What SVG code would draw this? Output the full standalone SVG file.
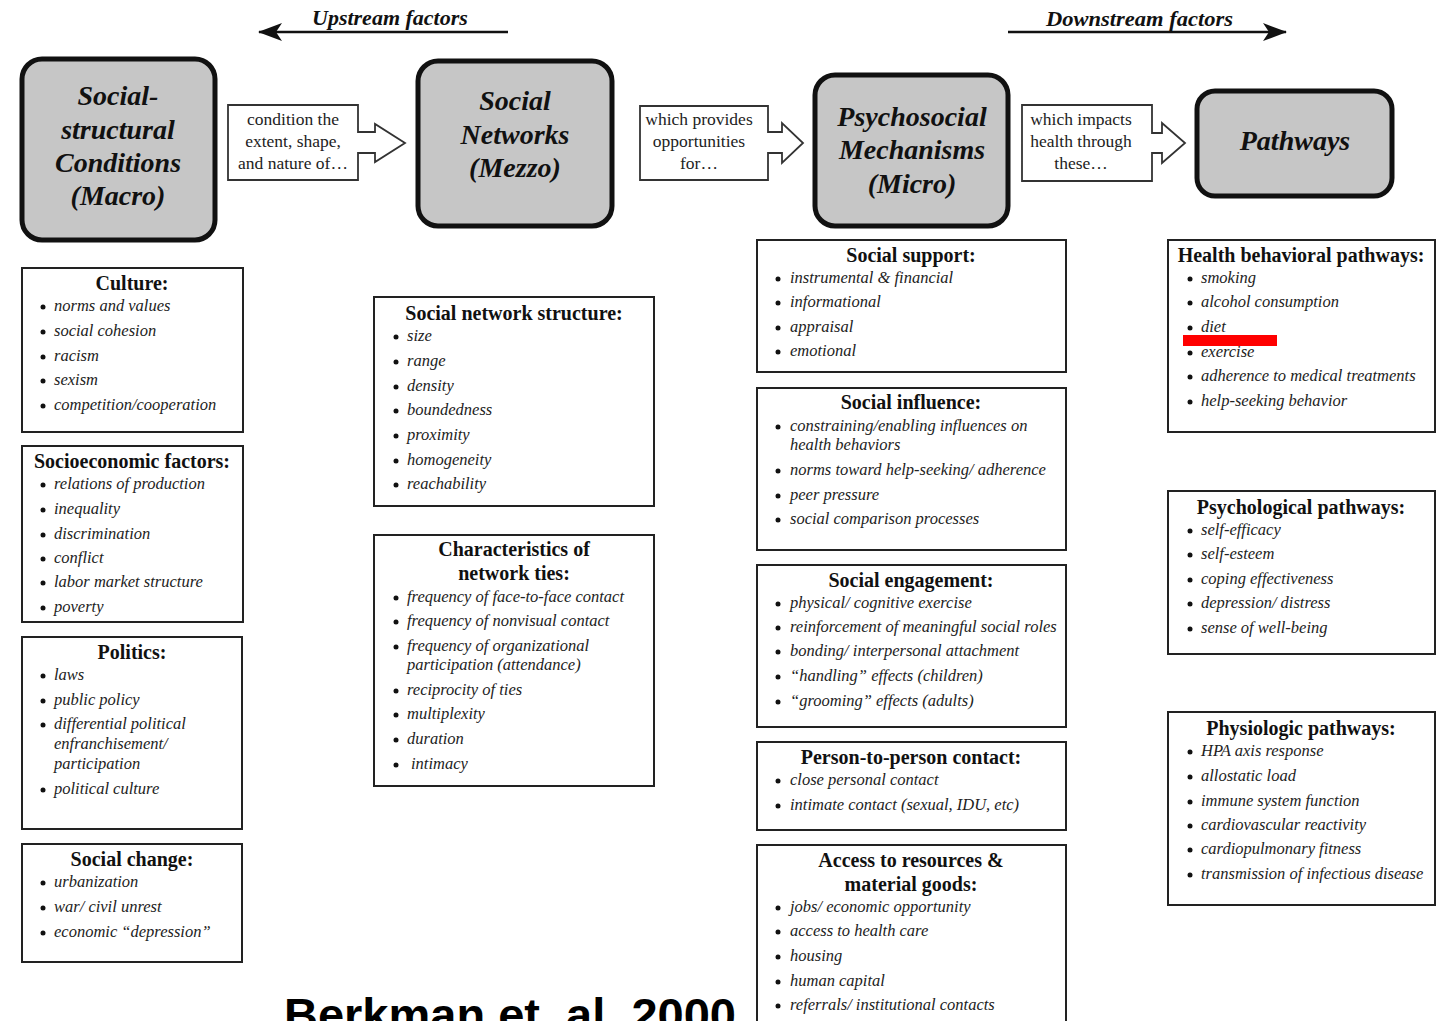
<svg xmlns="http://www.w3.org/2000/svg" width="1452" height="1021" viewBox="0 0 1452 1021">
<style>
.hbox{fill:#c6c6c6;stroke:#111;stroke-width:5}
.hdr{font-family:"Liberation Serif",serif;font-weight:bold;font-style:italic;font-size:28px;text-anchor:middle;fill:#111}
.cbox{fill:#fff;stroke:#333;stroke-width:1.8}
.ct{font-family:"Liberation Serif",serif;font-size:17.5px;text-anchor:middle;fill:#222}
.box{fill:#fff;stroke:#222;stroke-width:2}
.ttl{font-family:"Liberation Serif",serif;font-weight:bold;font-size:20px;text-anchor:middle;fill:#111}
.it{font-family:"Liberation Serif",serif;font-style:italic;font-size:16.5px;fill:#222}
.bul{fill:#111}
.flow{font-family:"Liberation Serif",serif;font-weight:bold;font-style:italic;font-size:22px;fill:#111}
.ln{stroke:#111;stroke-width:2.5;fill:none}
.cite{font-family:"Liberation Sans",Arial,sans-serif;font-weight:bold;font-size:47px;fill:#000}
</style>
<defs>
<marker id="ah" viewBox="0 0 24 18" refX="23" refY="9" markerWidth="24" markerHeight="18" markerUnits="userSpaceOnUse" orient="auto">
<path d="M0,0 L24,9 L0,18 L6,9 Z" fill="#111"/>
</marker>
</defs>
<rect width="1452" height="1021" fill="#fff"/>

<g id="flow-labels">
<text class="flow" x="312" y="25">Upstream factors</text>
<text class="flow" x="1046" y="26" textLength="187" lengthAdjust="spacingAndGlyphs">Downstream factors</text>
</g>

<g id="connectors">
<line class="ln" x1="508" y1="32" x2="259" y2="32" marker-end="url(#ah)"/>
<line class="ln" x1="1008" y1="32" x2="1286" y2="32" marker-end="url(#ah)"/>
<path class="cbox" d="M228,105 H358 V132 H375 V124 L405,143 L375,162 V153 H358 V180 H228 Z"/>
<path class="cbox" d="M640,106 H768 V132 H782 V123 L803,143 L782,163 V153 H768 V180 H640 Z"/>
<path class="cbox" d="M1022,105 H1152 V133 H1162 V123 L1185,143 L1162,163 V153 H1152 V181 H1022 Z"/>
<text class="ct" x="293" y="125">condition the</text>
<text class="ct" x="293" y="147">extent, shape,</text>
<text class="ct" x="293" y="169">and nature of…</text>
<text class="ct" x="699" y="125">which provides</text>
<text class="ct" x="699" y="147">opportunities</text>
<text class="ct" x="699" y="169">for…</text>
<text class="ct" x="1081" y="125">which impacts</text>
<text class="ct" x="1081" y="147">health through</text>
<text class="ct" x="1081" y="169">these…</text>
</g>

<g id="macro">
<rect class="hbox" x="22" y="59" width="193" height="181" rx="20"/>
<text class="hdr" x="118" y="105">Social-</text>
<text class="hdr" x="118" y="139">structural</text>
<text class="hdr" x="118" y="172">Conditions</text>
<text class="hdr" x="118" y="205">(Macro)</text>
</g>
<g id="mezzo">
<rect class="hbox" x="418" y="61" width="194" height="165" rx="20"/>
<text class="hdr" x="515" y="110">Social</text>
<text class="hdr" x="515" y="144">Networks</text>
<text class="hdr" x="515" y="177">(Mezzo)</text>
</g>
<g id="micro">
<rect class="hbox" x="815" y="75" width="193" height="151" rx="20"/>
<text class="hdr" x="912" y="126">Psychosocial</text>
<text class="hdr" x="912" y="159">Mechanisms</text>
<text class="hdr" x="912" y="193">(Micro)</text>
</g>
<g id="pathways">
<rect class="hbox" x="1197" y="91" width="195" height="105" rx="18"/>
<text class="hdr" x="1295" y="150">Pathways</text>
</g>

<g id="culture">
<rect class="box" x="22" y="268" width="221" height="164"/>
<text class="ttl" x="132" y="290">Culture:</text>
<circle class="bul" cx="43" cy="307" r="2.5"/><text class="it" x="54" y="311">norms and values</text>
<circle class="bul" cx="43" cy="332" r="2.5"/><text class="it" x="54" y="336">social cohesion</text>
<circle class="bul" cx="43" cy="357" r="2.5"/><text class="it" x="54" y="361">racism</text>
<circle class="bul" cx="43" cy="381" r="2.5"/><text class="it" x="54" y="385">sexism</text>
<circle class="bul" cx="43" cy="406" r="2.5"/><text class="it" x="54" y="410">competition/cooperation</text>
</g>
<g id="socioeconomic">
<rect class="box" x="22" y="446" width="221" height="176"/>
<text class="ttl" x="132" y="468">Socioeconomic factors:</text>
<circle class="bul" cx="43" cy="485" r="2.5"/><text class="it" x="54" y="489">relations of production</text>
<circle class="bul" cx="43" cy="510" r="2.5"/><text class="it" x="54" y="514">inequality</text>
<circle class="bul" cx="43" cy="535" r="2.5"/><text class="it" x="54" y="539">discrimination</text>
<circle class="bul" cx="43" cy="559" r="2.5"/><text class="it" x="54" y="563">conflict</text>
<circle class="bul" cx="43" cy="583" r="2.5"/><text class="it" x="54" y="587">labor market structure</text>
<circle class="bul" cx="43" cy="608" r="2.5"/><text class="it" x="54" y="612">poverty</text>
</g>
<g id="politics">
<rect class="box" x="22" y="637" width="220" height="192"/>
<text class="ttl" x="132" y="659">Politics:</text>
<circle class="bul" cx="43" cy="676" r="2.5"/><text class="it" x="54" y="680">laws</text>
<circle class="bul" cx="43" cy="701" r="2.5"/><text class="it" x="54" y="705">public policy</text>
<circle class="bul" cx="43" cy="725" r="2.5"/><text class="it" x="54" y="729">differential political</text>
<text class="it" x="54" y="749">enfranchisement/</text>
<text class="it" x="54" y="769">participation</text>
<circle class="bul" cx="43" cy="790" r="2.5"/><text class="it" x="54" y="794">political culture</text>
</g>
<g id="social-change">
<rect class="box" x="22" y="844" width="220" height="118"/>
<text class="ttl" x="132" y="866">Social change:</text>
<circle class="bul" cx="43" cy="883" r="2.5"/><text class="it" x="54" y="887">urbanization</text>
<circle class="bul" cx="43" cy="908" r="2.5"/><text class="it" x="54" y="912">war/ civil unrest</text>
<circle class="bul" cx="43" cy="933" r="2.5"/><text class="it" x="54" y="937">economic “depression”</text>
</g>

<g id="network-structure">
<rect class="box" x="374" y="297" width="280" height="209"/>
<text class="ttl" x="514" y="320">Social network structure:</text>
<circle class="bul" cx="396" cy="337" r="2.5"/><text class="it" x="407" y="341">size</text>
<circle class="bul" cx="396" cy="362" r="2.5"/><text class="it" x="407" y="366">range</text>
<circle class="bul" cx="396" cy="387" r="2.5"/><text class="it" x="407" y="391">density</text>
<circle class="bul" cx="396" cy="411" r="2.5"/><text class="it" x="407" y="415">boundedness</text>
<circle class="bul" cx="396" cy="436" r="2.5"/><text class="it" x="407" y="440">proximity</text>
<circle class="bul" cx="396" cy="461" r="2.5"/><text class="it" x="407" y="465">homogeneity</text>
<circle class="bul" cx="396" cy="485" r="2.5"/><text class="it" x="407" y="489">reachability</text>
</g>
<g id="network-ties">
<rect class="box" x="374" y="535" width="280" height="251"/>
<text class="ttl" x="514" y="556">Characteristics of</text>
<text class="ttl" x="514" y="580">network ties:</text>
<circle class="bul" cx="396" cy="598" r="2.5"/><text class="it" x="407" y="602">frequency of face-to-face contact</text>
<circle class="bul" cx="396" cy="622" r="2.5"/><text class="it" x="407" y="626">frequency of nonvisual contact</text>
<circle class="bul" cx="396" cy="647" r="2.5"/><text class="it" x="407" y="651">frequency of organizational</text>
<text class="it" x="407" y="670">participation (attendance)</text>
<circle class="bul" cx="396" cy="691" r="2.5"/><text class="it" x="407" y="695">reciprocity of ties</text>
<circle class="bul" cx="396" cy="715" r="2.5"/><text class="it" x="407" y="719">multiplexity</text>
<circle class="bul" cx="396" cy="740" r="2.5"/><text class="it" x="407" y="744">duration</text>
<circle class="bul" cx="396" cy="765" r="2.5"/><text class="it" x="411" y="769">intimacy</text>
</g>

<g id="social-support">
<rect class="box" x="757" y="240" width="309" height="132"/>
<text class="ttl" x="911" y="262">Social support:</text>
<circle class="bul" cx="778" cy="279" r="2.5"/><text class="it" x="790" y="283">instrumental &amp; financial</text>
<circle class="bul" cx="778" cy="303" r="2.5"/><text class="it" x="790" y="307">informational</text>
<circle class="bul" cx="778" cy="328" r="2.5"/><text class="it" x="790" y="332">appraisal</text>
<circle class="bul" cx="778" cy="352" r="2.5"/><text class="it" x="790" y="356">emotional</text>
</g>
<g id="social-influence">
<rect class="box" x="757" y="388" width="309" height="162"/>
<text class="ttl" x="911" y="409">Social influence:</text>
<circle class="bul" cx="778" cy="427" r="2.5"/><text class="it" x="790" y="431">constraining/enabling influences on</text>
<text class="it" x="790" y="450">health behaviors</text>
<circle class="bul" cx="778" cy="471" r="2.5"/><text class="it" x="790" y="475">norms toward help-seeking/ adherence</text>
<circle class="bul" cx="778" cy="496" r="2.5"/><text class="it" x="790" y="500">peer pressure</text>
<circle class="bul" cx="778" cy="520" r="2.5"/><text class="it" x="790" y="524">social comparison processes</text>
</g>
<g id="social-engagement">
<rect class="box" x="757" y="565" width="309" height="162"/>
<text class="ttl" x="911" y="587">Social engagement:</text>
<circle class="bul" cx="778" cy="604" r="2.5"/><text class="it" x="790" y="608">physical/ cognitive exercise</text>
<circle class="bul" cx="778" cy="628" r="2.5"/><text class="it" x="790" y="632">reinforcement of meaningful social roles</text>
<circle class="bul" cx="778" cy="652" r="2.5"/><text class="it" x="790" y="656">bonding/ interpersonal attachment</text>
<circle class="bul" cx="778" cy="677" r="2.5"/><text class="it" x="790" y="681">“handling” effects (children)</text>
<circle class="bul" cx="778" cy="702" r="2.5"/><text class="it" x="790" y="706">“grooming” effects (adults)</text>
</g>
<g id="person-contact">
<rect class="box" x="757" y="742" width="309" height="88"/>
<text class="ttl" x="911" y="764">Person-to-person contact:</text>
<circle class="bul" cx="778" cy="781" r="2.5"/><text class="it" x="790" y="785">close personal contact</text>
<circle class="bul" cx="778" cy="806" r="2.5"/><text class="it" x="790" y="810">intimate contact (sexual, IDU, etc)</text>
</g>
<g id="access-resources">
<rect class="box" x="757" y="845" width="309" height="190"/>
<text class="ttl" x="911" y="867">Access to resources &amp;</text>
<text class="ttl" x="911" y="891">material goods:</text>
<circle class="bul" cx="778" cy="908" r="2.5"/><text class="it" x="790" y="912">jobs/ economic opportunity</text>
<circle class="bul" cx="778" cy="932" r="2.5"/><text class="it" x="790" y="936">access to health care</text>
<circle class="bul" cx="778" cy="957" r="2.5"/><text class="it" x="790" y="961">housing</text>
<circle class="bul" cx="778" cy="982" r="2.5"/><text class="it" x="790" y="986">human capital</text>
<circle class="bul" cx="778" cy="1006" r="2.5"/><text class="it" x="790" y="1010">referrals/ institutional contacts</text>
</g>

<g id="health-behavioral">
<rect class="box" x="1168" y="240" width="267" height="192"/>
<text class="ttl" x="1301" y="262">Health behavioral pathways:</text>
<circle class="bul" cx="1190" cy="279" r="2.5"/><text class="it" x="1201" y="283">smoking</text>
<circle class="bul" cx="1190" cy="303" r="2.5"/><text class="it" x="1201" y="307">alcohol consumption</text>
<circle class="bul" cx="1190" cy="328" r="2.5"/><text class="it" x="1201" y="332">diet</text>
<circle class="bul" cx="1190" cy="353" r="2.5"/><text class="it" x="1201" y="357">exercise</text>
<circle class="bul" cx="1190" cy="377" r="2.5"/><text class="it" x="1201" y="381">adherence to medical treatments</text>
<circle class="bul" cx="1190" cy="402" r="2.5"/><text class="it" x="1201" y="406">help-seeking behavior</text>
<rect x="1183" y="335" width="94" height="11" fill="#ff0000"/>
</g>
<g id="psychological">
<rect class="box" x="1168" y="491" width="267" height="163"/>
<text class="ttl" x="1301" y="514">Psychological pathways:</text>
<circle class="bul" cx="1190" cy="531" r="2.5"/><text class="it" x="1201" y="535">self-efficacy</text>
<circle class="bul" cx="1190" cy="555" r="2.5"/><text class="it" x="1201" y="559">self-esteem</text>
<circle class="bul" cx="1190" cy="580" r="2.5"/><text class="it" x="1201" y="584">coping effectiveness</text>
<circle class="bul" cx="1190" cy="604" r="2.5"/><text class="it" x="1201" y="608">depression/ distress</text>
<circle class="bul" cx="1190" cy="629" r="2.5"/><text class="it" x="1201" y="633">sense of well-being</text>
</g>
<g id="physiologic">
<rect class="box" x="1168" y="712" width="267" height="193"/>
<text class="ttl" x="1301" y="735">Physiologic pathways:</text>
<circle class="bul" cx="1190" cy="752" r="2.5"/><text class="it" x="1201" y="756">HPA axis response</text>
<circle class="bul" cx="1190" cy="777" r="2.5"/><text class="it" x="1201" y="781">allostatic load</text>
<circle class="bul" cx="1190" cy="802" r="2.5"/><text class="it" x="1201" y="806">immune system function</text>
<circle class="bul" cx="1190" cy="826" r="2.5"/><text class="it" x="1201" y="830">cardiovascular reactivity</text>
<circle class="bul" cx="1190" cy="850" r="2.5"/><text class="it" x="1201" y="854">cardiopulmonary fitness</text>
<circle class="bul" cx="1190" cy="875" r="2.5"/><text class="it" x="1201" y="879">transmission of infectious disease</text>
</g>

<g id="citation">
<text class="cite" x="284" y="1031">Berkman et. al. 2000</text>
</g>
</svg>
